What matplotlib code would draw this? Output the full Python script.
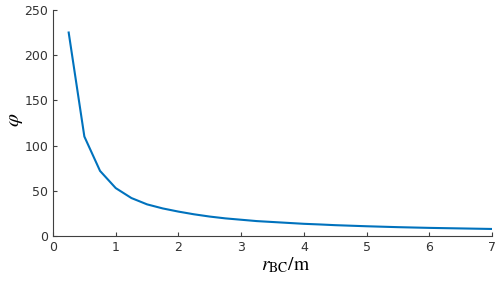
import matplotlib
matplotlib.use("Agg")
import matplotlib.pyplot as plt

# Data
r_bc = [0.25, 0.5, 0.75, 1.0, 1.25, 1.5, 1.75, 2.0, 2.25, 2.5, 2.75, 3.0, 3.25, 3.5,
        3.75, 4.0, 4.25, 4.5, 4.75, 5.0, 5.25, 5.5, 5.75, 6.0, 6.25, 6.5, 6.75, 7.0]
phi = [225, 110, 72, 53, 42, 35, 30.5, 27, 24, 21.5, 19.5, 18, 16.5, 15.5,
       14.5, 13.5, 12.8, 12, 11.4, 10.8, 10.3, 9.8, 9.4, 9.0, 8.7, 8.4, 8.1, 7.8]

x_ticks = [0, 1, 2, 3, 4, 5, 6, 7]
y_ticks = [0, 50, 100, 150, 200, 250]

plt.rcParams["mathtext.fontset"] = "stix"
axis_color = "#404040"

fig = plt.figure(figsize=(5, 2.83), dpi=100)
ax = fig.add_axes([0.106, 0.166, 0.878, 0.799])

ax.plot(r_bc, phi, color="#0072BD", linewidth=1.5)

ax.set_xlim(0, 7)
ax.set_ylim(0, 250)
ax.set_xticks(x_ticks)
ax.set_yticks(y_ticks)

for side in ["top", "right"]:
    ax.spines[side].set_visible(False)
for side in ["left", "bottom"]:
    ax.spines[side].set_color(axis_color)
    ax.spines[side].set_linewidth(0.8)

ax.tick_params(direction="in", length=3, width=0.8, colors=axis_color,
               labelsize=9, labelcolor="#333333")

ax.set_xlabel(r"$r_{\mathrm{BC}}/\mathrm{m}$", fontsize=14)
ax.xaxis.set_label_coords(0.53, -0.13)
ax.xaxis.label.set_va("center")

# y label (rotated phi), placed near the left edge like the reference
fig.text(0.03, 0.575, r"$\varphi$", fontsize=15, rotation=90,
         ha="center", va="center")

fig.savefig("out.png", dpi=100)
